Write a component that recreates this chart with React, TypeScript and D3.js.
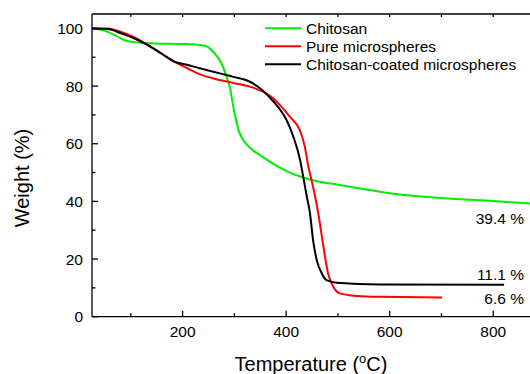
import { useEffect, useRef } from "react";
import * as d3 from "d3";

// Curvas TGA: [temperatura (°C), massa (%)]
const chitosan: [number, number][] = [
  [25, 100], [46, 99.4], [69, 97.7], [88, 95.9], [114, 95.1], [146, 94.8],
  [200, 94.6], [230, 94.3], [246, 93.8], [259, 91.9], [275, 87.9], [285, 83.2],
  [291, 79.8], [298, 72.8], [303, 68.5], [308, 64.8], [314, 62.2], [324, 59.7],
  [336, 57.7], [349, 56.1], [382, 52.3], [407, 50.0], [433, 48.3], [460, 47.0],
  [500, 45.8], [543, 44.5], [600, 42.8], [700, 41.2], [800, 40.1], [871, 39.3]
];

const pureMicrospheres: [number, number][] = [
  [25, 100], [56, 100], [81, 98.8], [107, 96.9], [133, 94.2], [159, 91.3],
  [185, 88.4], [210, 86.1], [230, 84.3], [272, 82.1], [298, 81.1], [330, 79.8],
  [362, 77.4], [375, 75.8], [388, 73.4], [407, 69.4], [427, 64.5], [436, 59.0],
  [443, 52.0], [449, 47.4], [456, 41.6], [462, 35.9], [472, 24.3], [481, 15.0],
  [491, 10.4], [504, 8.1], [536, 7.2], [581, 6.9], [701, 6.7]
];

const coatedMicrospheres: [number, number][] = [
  [25, 100], [56, 99.8], [81, 98.3], [107, 96.5], [133, 94.2], [159, 91.3],
  [185, 88.4], [210, 87.3], [233, 86.2], [272, 84.4], [298, 83.2], [330, 81.5],
  [349, 79.3], [369, 75.9], [385, 72.6], [400, 68.5], [414, 62.4], [427, 54.3],
  [433, 48.5], [440, 41.6], [446, 35.9], [452, 26.6], [459, 19.7], [469, 15.0],
  [478, 12.7], [498, 11.8], [581, 11.2], [821, 11.1]
];

const seriesNames = ["Chitosan", "Pure microspheres", "Chitosan-coated microspheres"];
const seriesColors = ["#00ee00", "#ff0000", "#000000"];
const residues = ["39.4 %", "11.1 %", "6.6 %"];
const residueAnchors: [number, number][] = [[871, 32.3], [871, 12.8], [871, 4.4]];

const xMajor = [200, 400, 600, 800];
const xMinor = [100, 300, 500, 700];
const yMajor = [0, 20, 40, 60, 80, 100];
const yMinor = [10, 30, 50, 70, 90];

const App = () => {
  const svgRef = useRef<SVGSVGElement>(null);

  useEffect(() => {
    if (!svgRef.current) return;
    const width = 530;
    const height = 374;
    const svg = d3.select(svgRef.current);
    svg.selectAll("*").remove();

    const margin = { top: 14, right: 0, bottom: 57.3, left: 92 };
    const font = "Liberation Sans, Arial, Helvetica, sans-serif";

    const x = d3.scaleLinear().domain([25, 871]).range([margin.left, width - margin.right]);
    const y = d3.scaleLinear().domain([0, 105]).range([height - margin.bottom, margin.top]);

    const bottom = y(0);
    const top = y(105);

    // Linhas das curvas
    const line = d3.line<[number, number]>()
      .x((d) => x(d[0]))
      .y((d) => y(d[1]))
      .curve(d3.curveMonotoneX);

    const curves = [chitosan, pureMicrospheres, coatedMicrospheres];
    // desenha verde, vermelho e depois preto por cima
    curves.forEach((c, i) => {
      svg.append("path")
        .datum(c)
        .attr("fill", "none")
        .attr("stroke", seriesColors[i])
        .attr("stroke-width", 2)
        .attr("stroke-linejoin", "round")
        .attr("d", line);
    });

    // Eixos (linhas)
    const axis = svg.append("g").attr("stroke", "#000").attr("stroke-width", 1.3);
    axis.append("line").attr("x1", margin.left).attr("x2", width).attr("y1", bottom).attr("y2", bottom);
    axis.append("line").attr("x1", margin.left).attr("x2", width).attr("y1", top).attr("y2", top);
    axis.append("line").attr("x1", margin.left).attr("x2", margin.left).attr("y1", top).attr("y2", bottom);

    // Ticks X (inferior e superior)
    xMajor.forEach((t) => {
      axis.append("line").attr("x1", x(t)).attr("x2", x(t)).attr("y1", bottom).attr("y2", bottom - 6);
      axis.append("line").attr("x1", x(t)).attr("x2", x(t)).attr("y1", top).attr("y2", top + 3);
    });
    xMinor.forEach((t) => {
      axis.append("line").attr("x1", x(t)).attr("x2", x(t)).attr("y1", bottom).attr("y2", bottom - 3.5);
      axis.append("line").attr("x1", x(t)).attr("x2", x(t)).attr("y1", top).attr("y2", top + 3);
    });

    // Ticks Y
    yMajor.forEach((t) => {
      axis.append("line").attr("x1", margin.left).attr("x2", margin.left + 6).attr("y1", y(t)).attr("y2", y(t));
    });
    yMinor.forEach((t) => {
      axis.append("line").attr("x1", margin.left).attr("x2", margin.left + 3.5).attr("y1", y(t)).attr("y2", y(t));
    });

    // Rótulos dos ticks
    svg.append("g")
      .selectAll("text")
      .data(xMajor)
      .enter()
      .append("text")
      .attr("x", (d) => x(d))
      .attr("y", bottom + 20)
      .attr("text-anchor", "middle")
      .style("font-family", font)
      .style("font-size", "15.5px")
      .text((d) => d);

    svg.append("g")
      .selectAll("text")
      .data(yMajor)
      .enter()
      .append("text")
      .attr("x", margin.left - 9)
      .attr("y", (d) => y(d) + 5.5)
      .attr("text-anchor", "end")
      .style("font-family", font)
      .style("font-size", "15.5px")
      .text((d) => d);

    // Títulos dos eixos
    const xTitle = svg.append("text")
      .attr("x", 311)
      .attr("y", 371)
      .attr("text-anchor", "middle")
      .style("font-family", font)
      .style("font-size", "20px");
    xTitle.append("tspan").text("Temperature (");
    xTitle.append("tspan").attr("dy", -8).style("font-size", "13px").text("o");
    xTitle.append("tspan").attr("dy", 8).text("C)");

    svg.append("text")
      .attr("transform", "translate(28.5,178) rotate(-90)")
      .attr("text-anchor", "middle")
      .style("font-family", font)
      .style("font-size", "20px")
      .text("Weight (%)");

    // Legenda
    const legend = svg.append("g");
    seriesNames.forEach((name, i) => {
      const ly = 28.3 + i * 18;
      legend.append("line")
        .attr("x1", 265).attr("x2", 301)
        .attr("y1", ly).attr("y2", ly)
        .attr("stroke", seriesColors[i])
        .attr("stroke-width", 2);
      legend.append("text")
        .attr("x", 306)
        .attr("y", ly + 5.3)
        .style("font-family", font)
        .style("font-size", "15.5px")
        .text(name);
    });

    // Resíduos
    residues.forEach((r, i) => {
      svg.append("text")
        .attr("x", x(residueAnchors[i][0]) - 6)
        .attr("y", y(residueAnchors[i][1]))
        .attr("text-anchor", "end")
        .style("font-family", font)
        .style("font-size", "15.5px")
        .text(r);
    });
  }, []);

  return (
    <svg
      ref={svgRef}
      width={530}
      height={374}
      style={{ position: "absolute", left: 0, top: 0, background: "#fff" }}
    />
  );
};

export default App;
